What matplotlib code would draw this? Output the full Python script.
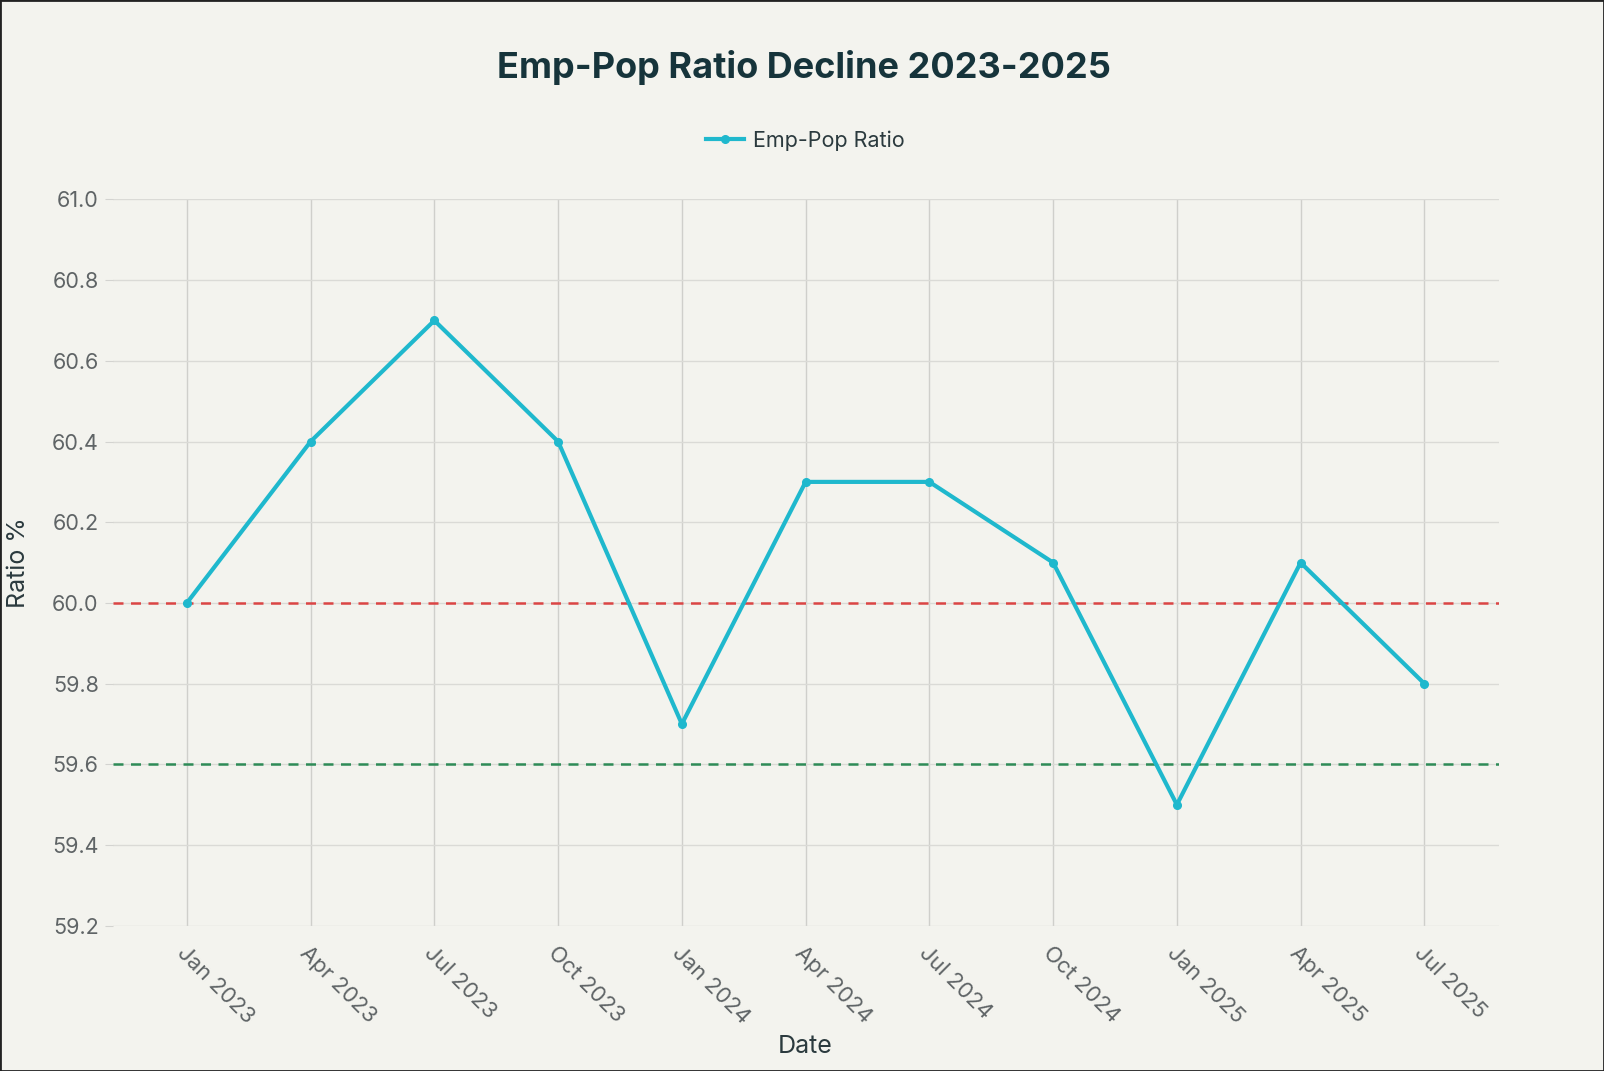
import matplotlib
matplotlib.use("Agg")
import matplotlib.pyplot as plt

dates = ["Jan 2023", "Apr 2023", "Jul 2023", "Oct 2023", "Jan 2024", "Apr 2024",
         "Jul 2024", "Oct 2024", "Jan 2025", "Apr 2025", "Jul 2025"]
ratio = [60.0, 60.4, 60.7, 60.4, 59.7, 60.3, 60.3, 60.1, 59.5, 60.1, 59.8]
ref_red = 60.0
ref_green = 59.6
y_ticks = [59.2, 59.4, 59.6, 59.8, 60.0, 60.2, 60.4, 60.6, 60.8, 61.0]

plt.rcParams['font.family'] = ['Inter', 'DejaVu Sans']

bg = "#F3F3EE"
fig = plt.figure(figsize=(16.04, 10.71), dpi=100, facecolor=bg)
ax = fig.add_axes([0.0702, 0.1356, 0.8641, 0.6782], facecolor=bg)

x = list(range(len(dates)))
ax.axhline(ref_red, color="#DB4545", linestyle=(0, (4, 3)), linewidth=1.8, zorder=2)
ax.axhline(ref_green, color="#2E8B57", linestyle=(0, (4, 3)), linewidth=1.8, zorder=2)
ax.plot(x, ratio, color="#1FB8CD", linewidth=3, marker="o", markersize=5.5,
        label="Emp-Pop Ratio", zorder=3)

ax.set_xlim(-0.6, len(dates) - 0.4)
ax.set_ylim(59.2, 61.0)
ax.set_xticks(x)
ax.set_xticklabels(dates, rotation=-45, ha="left", va="top", rotation_mode="anchor")
ax.set_yticks(y_ticks)
ax.set_yticklabels([f"{v:.1f}" for v in y_ticks])
ax.grid(True, axis="y", color="#DADAD6", linewidth=1)
ax.grid(True, axis="x", color="#CFCFCB", linewidth=1)
ax.set_axisbelow(True)
for s in ax.spines.values():
    s.set_visible(False)
ax.tick_params(axis="x", length=0, pad=12, labelsize=16, labelcolor="#5F6466")
ax.tick_params(axis="y", length=6, color="#D3D3D0", pad=4, labelsize=15.5, labelcolor="#5F6466")

ax.set_xlabel("Date", fontsize=18, color="#2B3A3E")
ax.xaxis.set_label_coords(0.5, -0.151)
ax.set_ylabel("Ratio %", fontsize=18, color="#2B3A3E", va="center")
ax.yaxis.set_label_coords(-0.068, 0.5)

fig.text(0.501, 0.937, "Emp-Pop Ratio Decline 2023-2025", ha="center", va="center",
         fontsize=26, fontweight="bold", color="#16343B")
fig.legend(loc="center", bbox_to_anchor=(0.502, 0.869), frameon=False, fontsize=15.5,
           labelcolor="#2B3A3E", handlelength=1.8, handletextpad=0.4)

fig.patches.append(plt.Rectangle((0, 0), 1, 1, transform=fig.transFigure,
                                 fill=False, edgecolor="#222222", linewidth=2))
fig.savefig("out.png", dpi=100, facecolor=bg)
